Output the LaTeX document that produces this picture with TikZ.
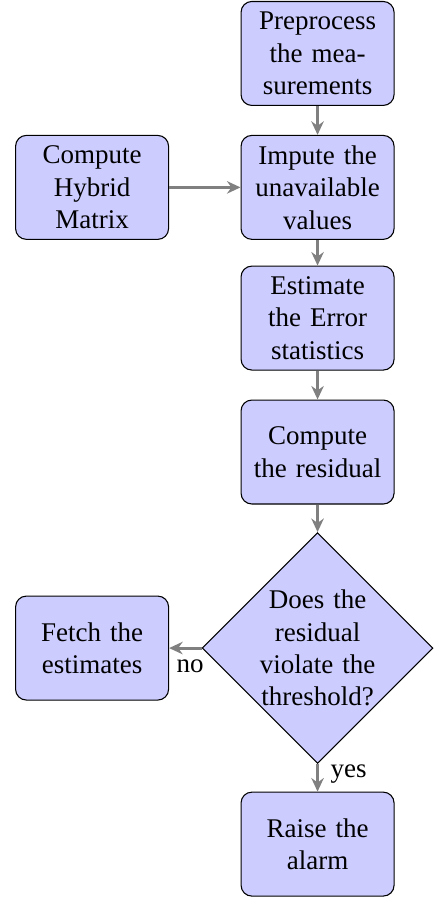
\documentclass[tikz,border=0pt]{standalone}
\usepackage{fontspec}
\setmainfont{Liberation Serif}
\usetikzlibrary{shapes.geometric,arrows.meta}
\begin{document}
\begin{tikzpicture}[x=1pt,y=-1pt,
  block/.style={rectangle, rounded corners=4pt, draw=black, fill=blue!20,
    text width=5em, align=center, minimum height=38.5pt, inner sep=3.33pt},
  decision/.style={diamond, draw=black, fill=blue!20, inner sep=0pt,
    minimum width=85.5pt, minimum height=85.5pt},
  decisiontext/.style={text width=4.8em, align=center, inner sep=0pt},
  link/.style={draw=gray, line width=1.1pt, -{Stealth[length=5pt,width=4.6pt]}},
  branch/.style={inner sep=0pt}]
  \useasboundingbox (0,0) rectangle (160.4,333.3);
  % process boxes
  \node[block] (pre) at (117.6,19.8) {Preprocess the measurements};
  \node[block] (imp) at (117.6,69.4) {Impute the unavailable values};
  \node[block] (hyb) at (34.1,69.4) {Compute Hybrid Matrix};
  \node[block] (est) at (117.6,117.8) {Estimate the Error statistics};
  \node[block] (res) at (117.6,167.4) {Compute the residual};
  % decision
  \node[decision] (dec) at (117.6,240) {};
  \node[decisiontext] (dectext) at (dec.center) {Does the residual violate the threshold?};
  \node[block] (fet) at (34.1,240) {Fetch the estimates};
  \node[block] (ala) at (117.6,312.6) {Raise the alarm};
  % connectors
  \draw[link] (pre) -- (imp);
  \draw[link] (hyb) -- (imp);
  \draw[link] (imp) -- (est);
  \draw[link] (est) -- (res);
  \draw[link] (res) -- (dec);
  \draw[link] (dec.west) -- (fet);
  \draw[link] (dec.south) -- (ala);
  % branch labels
  \node[branch, anchor=north east] (nolab) at ([xshift=1pt, yshift=-4pt]dec.west) {no};
  \node[branch, anchor=north west] (yeslab) at ([xshift=4.6pt]dec.south) {yes};
\end{tikzpicture}
\end{document}
